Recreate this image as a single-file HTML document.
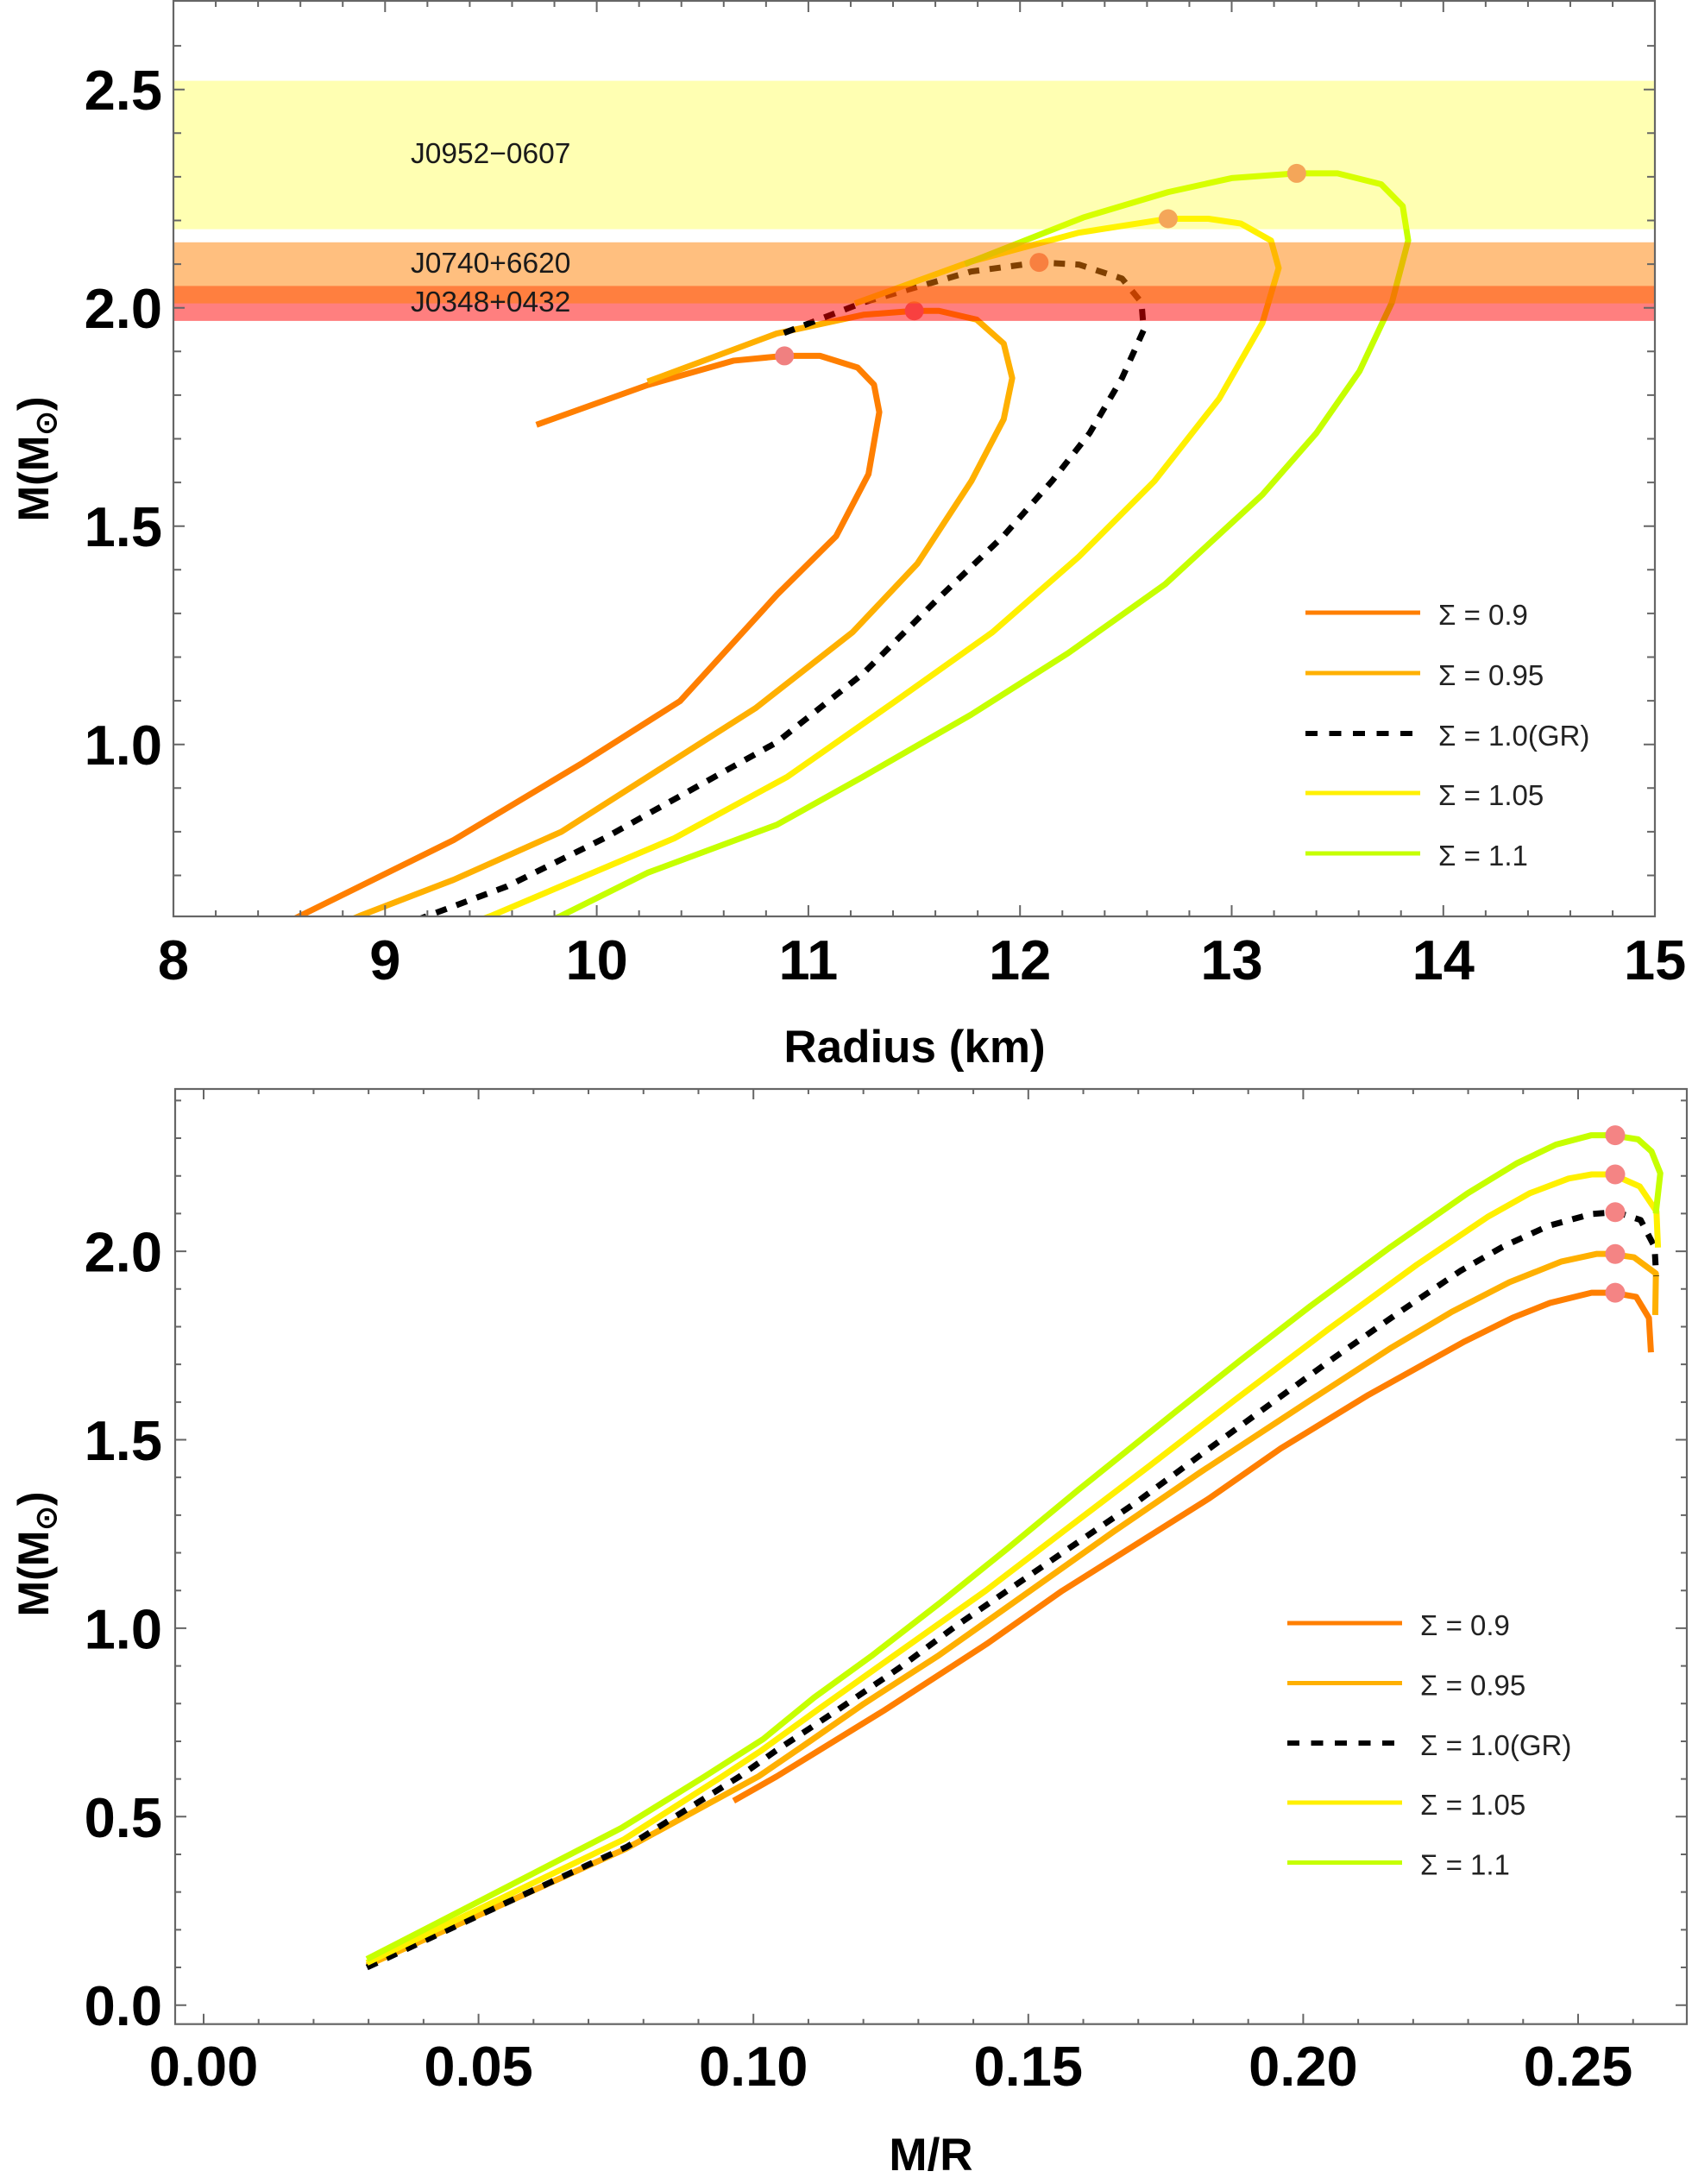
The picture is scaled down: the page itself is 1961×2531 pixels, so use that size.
<!DOCTYPE html>
<html><head><meta charset="utf-8"><style>
html,body{margin:0;padding:0;background:#fff;}
svg{display:block;}
text{font-family:"Liberation Sans",Arial,sans-serif;}
.tl{font-size:65px;font-weight:bold;fill:#000;}
.ax{font-size:53px;font-weight:bold;fill:#000;}
.lg{font-size:33px;fill:#222;}
.bl{font-size:33.5px;fill:#1a1a1a;}
</style></head><body>
<svg width="1961" height="2531" viewBox="0 0 1961 2531" xmlns="http://www.w3.org/2000/svg">
<rect width="1961" height="2531" fill="#fff"/>
<defs>
<clipPath id="c1" clipPathUnits="userSpaceOnUse"><rect x="201" y="1" width="1717" height="1061"/></clipPath>
<clipPath id="c2" clipPathUnits="userSpaceOnUse"><rect x="203" y="1262" width="1752" height="1084"/></clipPath>
</defs>

<!-- ================= TOP PLOT ================= -->
<g clip-path="url(#c1)">
<g transform="matrix(245.3 0 0 -506 -1761.4 1368.7)" fill="none" stroke-linejoin="round">
<polyline vector-effect="non-scaling-stroke" stroke="#FF7F00" stroke-width="7" points="8.45,0.57 8.597,0.607 9.324,0.781 9.934,0.958 10.393,1.099 10.852,1.343 11.131,1.477 11.284,1.619 11.335,1.761 11.31,1.824 11.233,1.863 11.055,1.89 10.887,1.89 10.648,1.879 10.24,1.823 9.715,1.732"/>
<polyline vector-effect="non-scaling-stroke" stroke="#FFB000" stroke-width="7" points="8.7,0.57 8.879,0.607 9.324,0.69 9.833,0.8 10.241,0.926 10.75,1.083 11.209,1.257 11.515,1.414 11.77,1.603 11.923,1.745 11.963,1.839 11.923,1.918 11.795,1.973 11.617,1.993 11.5,1.993 11.26,1.984 10.85,1.941 10.24,1.831"/>
</g>
<polyline fill="none" stroke="#000" stroke-width="7" stroke-dasharray="13 12" stroke-linejoin="round" points="458.6,1075.2 587.6,1027.2 700.2,971.5 800.3,915.8 900.3,860.2 1000.2,780.7 1087.8,693.2 1162.8,621.3 1219.2,557.6 1262.9,501.9 1300.4,438.2 1325.5,382.5 1323.0,350.6 1300.4,322.8 1250.4,306.6 1204.3,304.1 1125.3,314.7 1000.2,350.6 897.7,390.1"/>
<g transform="matrix(245.3 0 0 -506 -1761.4 1368.7)" fill="none" stroke-linejoin="round">
<polyline vector-effect="non-scaling-stroke" stroke="#FFF000" stroke-width="7" points="9.35,0.58 9.499,0.607 9.83,0.675 10.366,0.785 10.901,0.926 11.411,1.099 11.87,1.257 12.278,1.43 12.635,1.603 12.941,1.792 13.145,1.965 13.222,2.091 13.186,2.154 13.043,2.193 12.89,2.204 12.7,2.204 12.278,2.172 11.768,2.106 11.22,2.01"/>
<polyline vector-effect="non-scaling-stroke" stroke="#C6FF00" stroke-width="7" points="9.7,0.58 9.83,0.607 10.24,0.706 10.851,0.816 11.258,0.926 11.768,1.068 12.227,1.209 12.686,1.367 13.145,1.572 13.4,1.713 13.604,1.855 13.757,2.012 13.834,2.154 13.808,2.233 13.706,2.283 13.5,2.308 13.307,2.308 13.0,2.297 12.7,2.265 12.3,2.207 11.74,2.1"/>
</g>
<g fill="#F08080">
<circle cx="909.2" cy="412.4" r="11"/>
<circle cx="1059.6" cy="360.2" r="11"/>
<circle cx="1204.3" cy="304.1" r="11"/>
<circle cx="1353.9" cy="253.5" r="11"/>
<circle cx="1502.8" cy="200.9" r="11"/>
</g>
<!-- bands -->
<rect x="201" y="331.4" width="1717" height="40.5" fill="#FF0000" fill-opacity="0.5"/>
<rect x="201" y="280.8" width="1717" height="70.8" fill="#FF8000" fill-opacity="0.5"/>
<rect x="201" y="93.6" width="1717" height="172" fill="#FFFF00" fill-opacity="0.3"/>
</g>
<text class="bl" x="476" y="189">J0952−0607</text>
<text class="bl" x="476" y="316">J0740+6620</text>
<text class="bl" x="476" y="361">J0348+0432</text>

<!-- top legend -->
<g stroke-width="5" fill="none">
<line x1="1513" y1="710" x2="1646" y2="710" stroke="#FF7F00"/>
<line x1="1513" y1="780" x2="1646" y2="780" stroke="#FFB000"/>
<line x1="1513" y1="850" x2="1646" y2="850" stroke="#000" stroke-width="6" stroke-dasharray="14 13.5"/>
<line x1="1513" y1="919" x2="1646" y2="919" stroke="#FFF000"/>
<line x1="1513" y1="989" x2="1646" y2="989" stroke="#C6FF00"/>
</g>
<text class="lg" x="1667" y="724">Σ = 0.9</text>
<text class="lg" x="1667" y="794">Σ = 0.95</text>
<text class="lg" x="1667" y="864">Σ = 1.0(GR)</text>
<text class="lg" x="1667" y="933">Σ = 1.05</text>
<text class="lg" x="1667" y="1003">Σ = 1.1</text>

<!-- top frame & ticks -->
<rect x="201" y="1" width="1717" height="1061" fill="none" stroke="#666" stroke-width="2.2"/>
<path fill="none" stroke="#666" stroke-width="2" d="
M250.06 1062v-7M299.12 1062v-7M348.18 1062v-7M397.24 1062v-7M495.36 1062v-7M544.42 1062v-7M593.48 1062v-7M642.54 1062v-7M740.66 1062v-7M789.72 1062v-7M838.78 1062v-7M887.84 1062v-7M985.96 1062v-7M1035.02 1062v-7M1084.08 1062v-7M1133.14 1062v-7M1231.26 1062v-7M1280.32 1062v-7M1329.38 1062v-7M1378.44 1062v-7M1476.56 1062v-7M1525.62 1062v-7M1574.68 1062v-7M1623.74 1062v-7M1721.86 1062v-7M1770.92 1062v-7M1819.98 1062v-7M1869.04 1062v-7
M446.3 1062v-13M691.6 1062v-13M936.9 1062v-13M1182.2 1062v-13M1427.5 1062v-13M1672.8 1062v-13
M250.06 1v7M299.12 1v7M348.18 1v7M397.24 1v7M495.36 1v7M544.42 1v7M593.48 1v7M642.54 1v7M740.66 1v7M789.72 1v7M838.78 1v7M887.84 1v7M985.96 1v7M1035.02 1v7M1084.08 1v7M1133.14 1v7M1231.26 1v7M1280.32 1v7M1329.38 1v7M1378.44 1v7M1476.56 1v7M1525.62 1v7M1574.68 1v7M1623.74 1v7M1721.86 1v7M1770.92 1v7M1819.98 1v7M1869.04 1v7
M446.3 1v13M691.6 1v13M936.9 1v13M1182.2 1v13M1427.5 1v13M1672.8 1v13
M201 1014.5h9M201 963.9h9M201 913.3h9M201 812.1h9M201 761.5h9M201 710.9h9M201 660.3h9M201 559.1h9M201 508.5h9M201 457.9h9M201 407.3h9M201 306.1h9M201 255.5h9M201 204.9h9M201 154.3h9M201 53.1h9
M201 862.7h13M201 609.7h13M201 356.7h13M201 103.7h13
M1918 1014.5h-9M1918 963.9h-9M1918 913.3h-9M1918 812.1h-9M1918 761.5h-9M1918 710.9h-9M1918 660.3h-9M1918 559.1h-9M1918 508.5h-9M1918 457.9h-9M1918 407.3h-9M1918 306.1h-9M1918 255.5h-9M1918 204.9h-9M1918 154.3h-9M1918 53.1h-9
M1918 862.7h-13M1918 609.7h-13M1918 356.7h-13M1918 103.7h-13"/>

<g text-anchor="middle">
<text class="tl" x="201" y="1135">8</text>
<text class="tl" x="446.3" y="1135">9</text>
<text class="tl" x="691.6" y="1135">10</text>
<text class="tl" x="936.9" y="1135">11</text>
<text class="tl" x="1182.2" y="1135">12</text>
<text class="tl" x="1427.5" y="1135">13</text>
<text class="tl" x="1672.8" y="1135">14</text>
<text class="tl" x="1918.1" y="1135">15</text>
</g>
<g text-anchor="end">
<text class="tl" x="188" y="886.2">1.0</text>
<text class="tl" x="188" y="633.2">1.5</text>
<text class="tl" x="188" y="380.2">2.0</text>
<text class="tl" x="188" y="127.2">2.5</text>
</g>
<text class="ax" x="1060" y="1231" text-anchor="middle">Radius (km)</text>
<text class="ax" transform="translate(56,532) rotate(-90)" text-anchor="middle" style="font-size:50px">M(M<tspan style="font-size:34px" dy="9">⊙</tspan><tspan dy="-9">)</tspan></text>

<!-- ================= BOTTOM PLOT ================= -->
<g clip-path="url(#c2)">
<g transform="matrix(6372 0 0 -436.8 236 2323.7)" fill="none" stroke-linejoin="round">
<polyline vector-effect="non-scaling-stroke" stroke="#FF7F00" stroke-width="7" points="0.0964,0.542 0.10426,0.607 0.12368,0.781 0.1424,0.958 0.15614,1.099 0.18274,1.343 0.19593,1.477 0.21186,1.619 0.2294,1.761 0.23813,1.824 0.24489,1.863 0.25245,1.89 0.25634,1.89 0.26057,1.879 0.26288,1.823 0.26325,1.732"/>
<polyline vector-effect="non-scaling-stroke" stroke="#FFB000" stroke-width="7" points="0.0297,0.105 0.0768,0.415 0.10095,0.607 0.10927,0.69 0.12013,0.8 0.13352,0.926 0.14876,1.083 0.16559,1.257 0.18132,1.414 0.2011,1.603 0.21611,1.745 0.22699,1.839 0.23753,1.918 0.247,1.973 0.25333,1.993 0.2559,1.993 0.26017,1.984 0.26415,1.941 0.26403,1.831"/>
</g>
<polyline fill="none" stroke="#000" stroke-width="7" stroke-dasharray="13 12" stroke-linejoin="round" points="425.3,2280.0 726.6,2140.2 857.3,2058.6 899.2,2028.9 972.0,1980.8 1042.4,1932.8 1107.4,1884.7 1207.2,1816.1 1317.5,1740.6 1401.8,1678.5 1477.3,1623.5 1543.3,1575.5 1622.2,1520.4 1693.3,1472.4 1741.5,1444.9 1794.1,1420.8 1844.5,1406.9 1873.4,1404.7 1901.4,1413.8 1917.6,1444.9 1919.5,1478.9"/>
<g transform="matrix(6372 0 0 -436.8 236 2323.7)" fill="none" stroke-linejoin="round">
<polyline vector-effect="non-scaling-stroke" stroke="#FFF000" stroke-width="7" points="0.0297,0.112 0.0765,0.44 0.09436,0.607 0.10139,0.675 0.11182,0.785 0.12543,0.926 0.14221,1.099 0.15637,1.257 0.17198,1.43 0.18734,1.603 0.20447,1.792 0.22073,1.965 0.23352,2.091 0.24121,2.154 0.24827,2.193 0.25248,2.204 0.25625,2.204 0.26121,2.172 0.26425,2.106 0.26453,2.01"/>
<polyline vector-effect="non-scaling-stroke" stroke="#C6FF00" stroke-width="7" points="0.0297,0.122 0.076,0.47 0.09118,0.607 0.1018,0.706 0.11104,0.816 0.12145,0.926 0.13401,1.068 0.14601,1.209 0.15911,1.367 0.17659,1.572 0.18876,1.713 0.20134,1.855 0.21596,2.012 0.22991,2.154 0.23879,2.233 0.24596,2.283 0.25244,2.308 0.2561,2.308 0.2609,2.297 0.26335,2.265 0.26495,2.207 0.26413,2.1"/>
</g>
<g fill="#F48484">
<circle cx="1872" cy="1315.6" r="11.5"/>
<circle cx="1872" cy="1361.0" r="11.5"/>
<circle cx="1872" cy="1404.7" r="11.5"/>
<circle cx="1872" cy="1453.2" r="11.5"/>
<circle cx="1872" cy="1498.1" r="11.5"/>
</g>
</g>

<!-- bottom legend -->
<g stroke-width="5" fill="none">
<line x1="1492" y1="1881" x2="1625" y2="1881" stroke="#FF7F00"/>
<line x1="1492" y1="1950.5" x2="1625" y2="1950.5" stroke="#FFB000"/>
<line x1="1492" y1="2020" x2="1625" y2="2020" stroke="#000" stroke-width="6" stroke-dasharray="14 13.5"/>
<line x1="1492" y1="2089" x2="1625" y2="2089" stroke="#FFF000"/>
<line x1="1492" y1="2158.5" x2="1625" y2="2158.5" stroke="#C6FF00"/>
</g>
<text class="lg" x="1646" y="1895">Σ = 0.9</text>
<text class="lg" x="1646" y="1964.5">Σ = 0.95</text>
<text class="lg" x="1646" y="2034">Σ = 1.0(GR)</text>
<text class="lg" x="1646" y="2103">Σ = 1.05</text>
<text class="lg" x="1646" y="2172.5">Σ = 1.1</text>

<!-- bottom frame & ticks -->
<rect x="203" y="1262" width="1752" height="1083.7" fill="none" stroke="#666" stroke-width="2.2"/>
<path fill="none" stroke="#666" stroke-width="2" d="
M299.72 2345.7v-6M363.44 2345.7v-6M427.16 2345.7v-6M490.88 2345.7v-6M618.32 2345.7v-6M682.04 2345.7v-6M745.76 2345.7v-6M809.48 2345.7v-6M936.92 2345.7v-6M1000.64 2345.7v-6M1064.36 2345.7v-6M1128.08 2345.7v-6M1255.52 2345.7v-6M1319.24 2345.7v-6M1382.96 2345.7v-6M1446.68 2345.7v-6M1574.12 2345.7v-6M1637.84 2345.7v-6M1701.56 2345.7v-6M1765.28 2345.7v-6M1892.72 2345.7v-6
M236 2345.7v-12M554.6 2345.7v-12M873.2 2345.7v-12M1191.8 2345.7v-12M1510.4 2345.7v-12M1829 2345.7v-12
M299.72 1262v6M363.44 1262v6M427.16 1262v6M490.88 1262v6M618.32 1262v6M682.04 1262v6M745.76 1262v6M809.48 1262v6M936.92 1262v6M1000.64 1262v6M1064.36 1262v6M1128.08 1262v6M1255.52 1262v6M1319.24 1262v6M1382.96 1262v6M1446.68 1262v6M1574.12 1262v6M1637.84 1262v6M1701.56 1262v6M1765.28 1262v6M1892.72 1262v6
M236 1262v12M554.6 1262v12M873.2 1262v12M1191.8 1262v12M1510.4 1262v12M1829 1262v12
M203 2280.02h7M203 2236.34h7M203 2192.66h7M203 2148.98h7M203 2061.62h7M203 2017.94h7M203 1974.26h7M203 1930.58h7M203 1843.22h7M203 1799.54h7M203 1755.86h7M203 1712.18h7M203 1624.82h7M203 1581.14h7M203 1537.46h7M203 1493.78h7M203 1406.42h7M203 1362.74h7M203 1319.06h7M203 1275.38h7
M203 2323.7h13M203 2105.3h13M203 1886.9h13M203 1668.5h13M203 1450.1h13
M1955 2280.02h-7M1955 2236.34h-7M1955 2192.66h-7M1955 2148.98h-7M1955 2061.62h-7M1955 2017.94h-7M1955 1974.26h-7M1955 1930.58h-7M1955 1843.22h-7M1955 1799.54h-7M1955 1755.86h-7M1955 1712.18h-7M1955 1624.82h-7M1955 1581.14h-7M1955 1537.46h-7M1955 1493.78h-7M1955 1406.42h-7M1955 1362.74h-7M1955 1319.06h-7M1955 1275.38h-7
M1955 2323.7h-13M1955 2105.3h-13M1955 1886.9h-13M1955 1668.5h-13M1955 1450.1h-13"/>

<g text-anchor="middle">
<text class="tl" x="236" y="2417">0.00</text>
<text class="tl" x="554.6" y="2417">0.05</text>
<text class="tl" x="873.2" y="2417">0.10</text>
<text class="tl" x="1191.8" y="2417">0.15</text>
<text class="tl" x="1510.4" y="2417">0.20</text>
<text class="tl" x="1829" y="2417">0.25</text>
</g>
<g text-anchor="end">
<text class="tl" x="188" y="2347.2">0.0</text>
<text class="tl" x="188" y="2128.8">0.5</text>
<text class="tl" x="188" y="1910.4">1.0</text>
<text class="tl" x="188" y="1692">1.5</text>
<text class="tl" x="188" y="1473.6">2.0</text>
</g>
<text class="ax" x="1079" y="2515" text-anchor="middle">M/R</text>
<text class="ax" transform="translate(56,1801) rotate(-90)" text-anchor="middle" style="font-size:50px">M(M<tspan style="font-size:34px" dy="9">⊙</tspan><tspan dy="-9">)</tspan></text>
</svg>
</body></html>
